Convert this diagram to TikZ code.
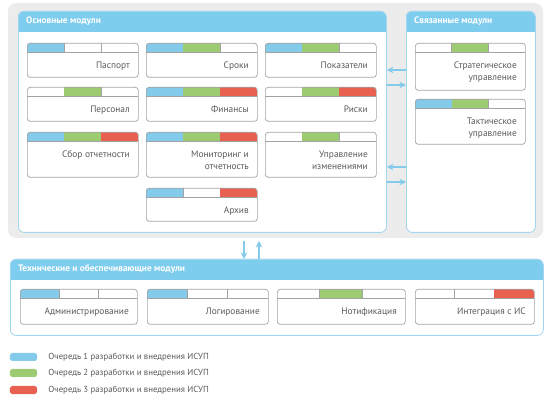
\documentclass[tikz,border=0pt]{standalone}
\usepackage{fontspec}
\setmainfont{PT Sans}
\usetikzlibrary{arrows.meta,positioning,calc}
\definecolor{qblue}{HTML}{84CBEB}
\definecolor{qgreen}{HTML}{9DCB72}
\definecolor{qred}{HTML}{E8604F}
\definecolor{headblue}{HTML}{7FCDEE}
\definecolor{lineblue}{HTML}{A2D6EE}
\definecolor{boxgray}{HTML}{A3A3A3}
\definecolor{inkgray}{HTML}{5A5A5A}
\definecolor{bggray}{HTML}{ECECEC}
\tikzset{
  modframe/.style={draw=boxgray,line width=0.6pt,rounded corners=2.5pt,
                   inner sep=0pt,anchor=north west},
  modtext/.style={font=\fontsize{8}{10.2}\selectfont,text=inkgray,
                  align=right,inner sep=0pt,anchor=north east},
  bargray/.style={draw=boxgray,line width=0.5pt},
  pnlframe/.style={draw=lineblue,line width=0.7pt,rounded corners=5pt,
                   inner sep=0pt,anchor=north west},
  pnltitle/.style={font=\fontsize{8}{10}\selectfont\bfseries,text=white,
                   inner sep=0pt,anchor=west},
  lnkarr/.style={-{Stealth[length=2mm,width=2mm]},line width=0.9pt,draw=qblue},
  swatch/.style={rounded corners=1.5pt,minimum width=0.81cm,minimum height=0.24cm,
                 inner sep=0pt},
  legtext/.style={font=\fontsize{7.5}{9}\selectfont,text=inkgray,inner sep=0pt,anchor=west}
}
% name, x, y, width, height, colour 1, colour 2, colour 3, label
\newcommand{\modbox}[9]{%
  \fill[white,rounded corners=2.5pt] (#2,#3) rectangle ++(#4,#5);
  \begin{scope}
    \clip[rounded corners=2.5pt] (#2,#3) rectangle ++(#4,#5);
    \draw[bargray] ({#2+#4/3},#3) -- ++(0,9);
    \draw[bargray] ({#2+2*#4/3},#3) -- ++(0,9);
    \path[fill=#6] (#2,#3) rectangle ({#2+#4/3},{#3+9});
    \path[fill=#7] ({#2+#4/3},#3) rectangle ({#2+2*#4/3},{#3+9});
    \path[fill=#8] ({#2+2*#4/3},#3) rectangle ({#2+#4},{#3+9});
  \end{scope}
  \draw[bargray] (#2,{#3+9}) -- ++(#4,0);
  \node[modframe,minimum width=#4*0.03cm,minimum height=#5*0.03cm] (#1) at (#2,#3) {};
  \node[modtext] (#1t) at ({#2+#4-8},{#3+18.5}) {#9};
}
% panel: name, x, y, width, height, title
\newcommand{\pnlbox}[6]{%
  \fill[white,rounded corners=5pt] (#2,#3) rectangle ++(#4,#5);
  \fill[headblue] (#2,{#3+21}) [rounded corners=5pt] -- (#2,#3) -- ({#2+#4},#3)
    [sharp corners] -- ({#2+#4},{#3+21}) -- cycle;
  \node[pnlframe,minimum width=#4*0.03cm,minimum height=#5*0.03cm] (#1) at (#2,#3) {};
  \node[pnltitle] (#1t) at ({#2+8},{#3+10.5}) {#6};
}

\begin{document}
\begin{tikzpicture}[x=0.03cm,y=-0.03cm]
  \useasboundingbox[fill=white] (0,0) rectangle (554,400);
  \fill[bggray,rounded corners=7pt] (8,3) rectangle (543,238);

  % main modules
  \pnlbox{osn}{18}{11}{368}{221}{Основные модули}
  \modbox{pasp}{27}{43}{111}{34}{qblue}{none}{none}{Паспорт}
  \modbox{srok}{146}{43}{111}{34}{qblue}{qgreen}{none}{Сроки}
  \modbox{pokz}{265}{43}{111}{34}{qblue}{qgreen}{none}{Показатели}
  \modbox{pers}{27}{87}{111}{34}{none}{qgreen}{none}{Персонал}
  \modbox{fin}{146}{87}{111}{34}{qblue}{qgreen}{qred}{Финансы}
  \modbox{risk}{265}{87}{111}{34}{none}{qgreen}{qred}{Риски}
  \modbox{sbor}{27}{132}{111}{45}{qblue}{qgreen}{qred}{Сбор отчетности}
  \modbox{mon}{146}{132}{111}{45}{qblue}{qgreen}{qred}{Мониторинг и\\отчетность}
  \modbox{izm}{265}{132}{111}{45}{none}{qgreen}{none}{Управление\\изменениями}
  \modbox{arh}{146}{188}{111}{33}{qblue}{none}{qred}{Архив}

  % related modules
  \pnlbox{svz}{406}{11}{129}{221}{Связанные модули}
  \modbox{strat}{415}{43}{110}{47}{none}{qgreen}{none}{Стратегическое\\управление}
  \modbox{takt}{415}{99}{110}{45}{qblue}{qgreen}{none}{Тактическое\\управление}

  \draw[lnkarr] (svz.west |- 0,70) -- (osn.east |- 0,70);
  \draw[lnkarr] (osn.east |- 0,85) -- (svz.west |- 0,85);
  \draw[lnkarr] (svz.west |- 0,167) -- (osn.east |- 0,167);
  \draw[lnkarr] (osn.east |- 0,182) -- (svz.west |- 0,182);

  % technical modules
  \pnlbox{tech}{10}{259}{533}{76}{Технические и обеспечивающие модули}
  \modbox{adm}{20}{289}{117}{35}{qblue}{none}{none}{Администрирование}
  \modbox{log}{147}{289}{121}{35}{qblue}{none}{none}{Логирование}
  \modbox{notif}{277}{289}{128}{35}{none}{qgreen}{none}{Нотификация}
  \modbox{integ}{415}{289}{119}{35}{none}{none}{qred}{Интеграция с ИС}

  \coordinate (vtop) at (0,241);
  \draw[lnkarr] (vtop -| 244,0) -- (tech.north -| 244,0);
  \draw[lnkarr] (tech.north -| 259,0) -- (vtop -| 259,0);

  % legend
  \node[swatch,fill=qblue] (lg1) at (23.5,357) {};
  \node[swatch,fill=qgreen] (lg2) at (23.5,373) {};
  \node[swatch,fill=qred] (lg3) at (23.5,390) {};
  \node[legtext,right=0.33cm of lg1] (lg1t) {Очередь 1 разработки и внедрения ИСУП};
  \node[legtext,right=0.33cm of lg2] (lg2t) {Очередь 2 разработки и внедрения ИСУП};
  \node[legtext,right=0.33cm of lg3] (lg3t) {Очередь 3 разработки и внедрения ИСУП};
\end{tikzpicture}
\end{document}
